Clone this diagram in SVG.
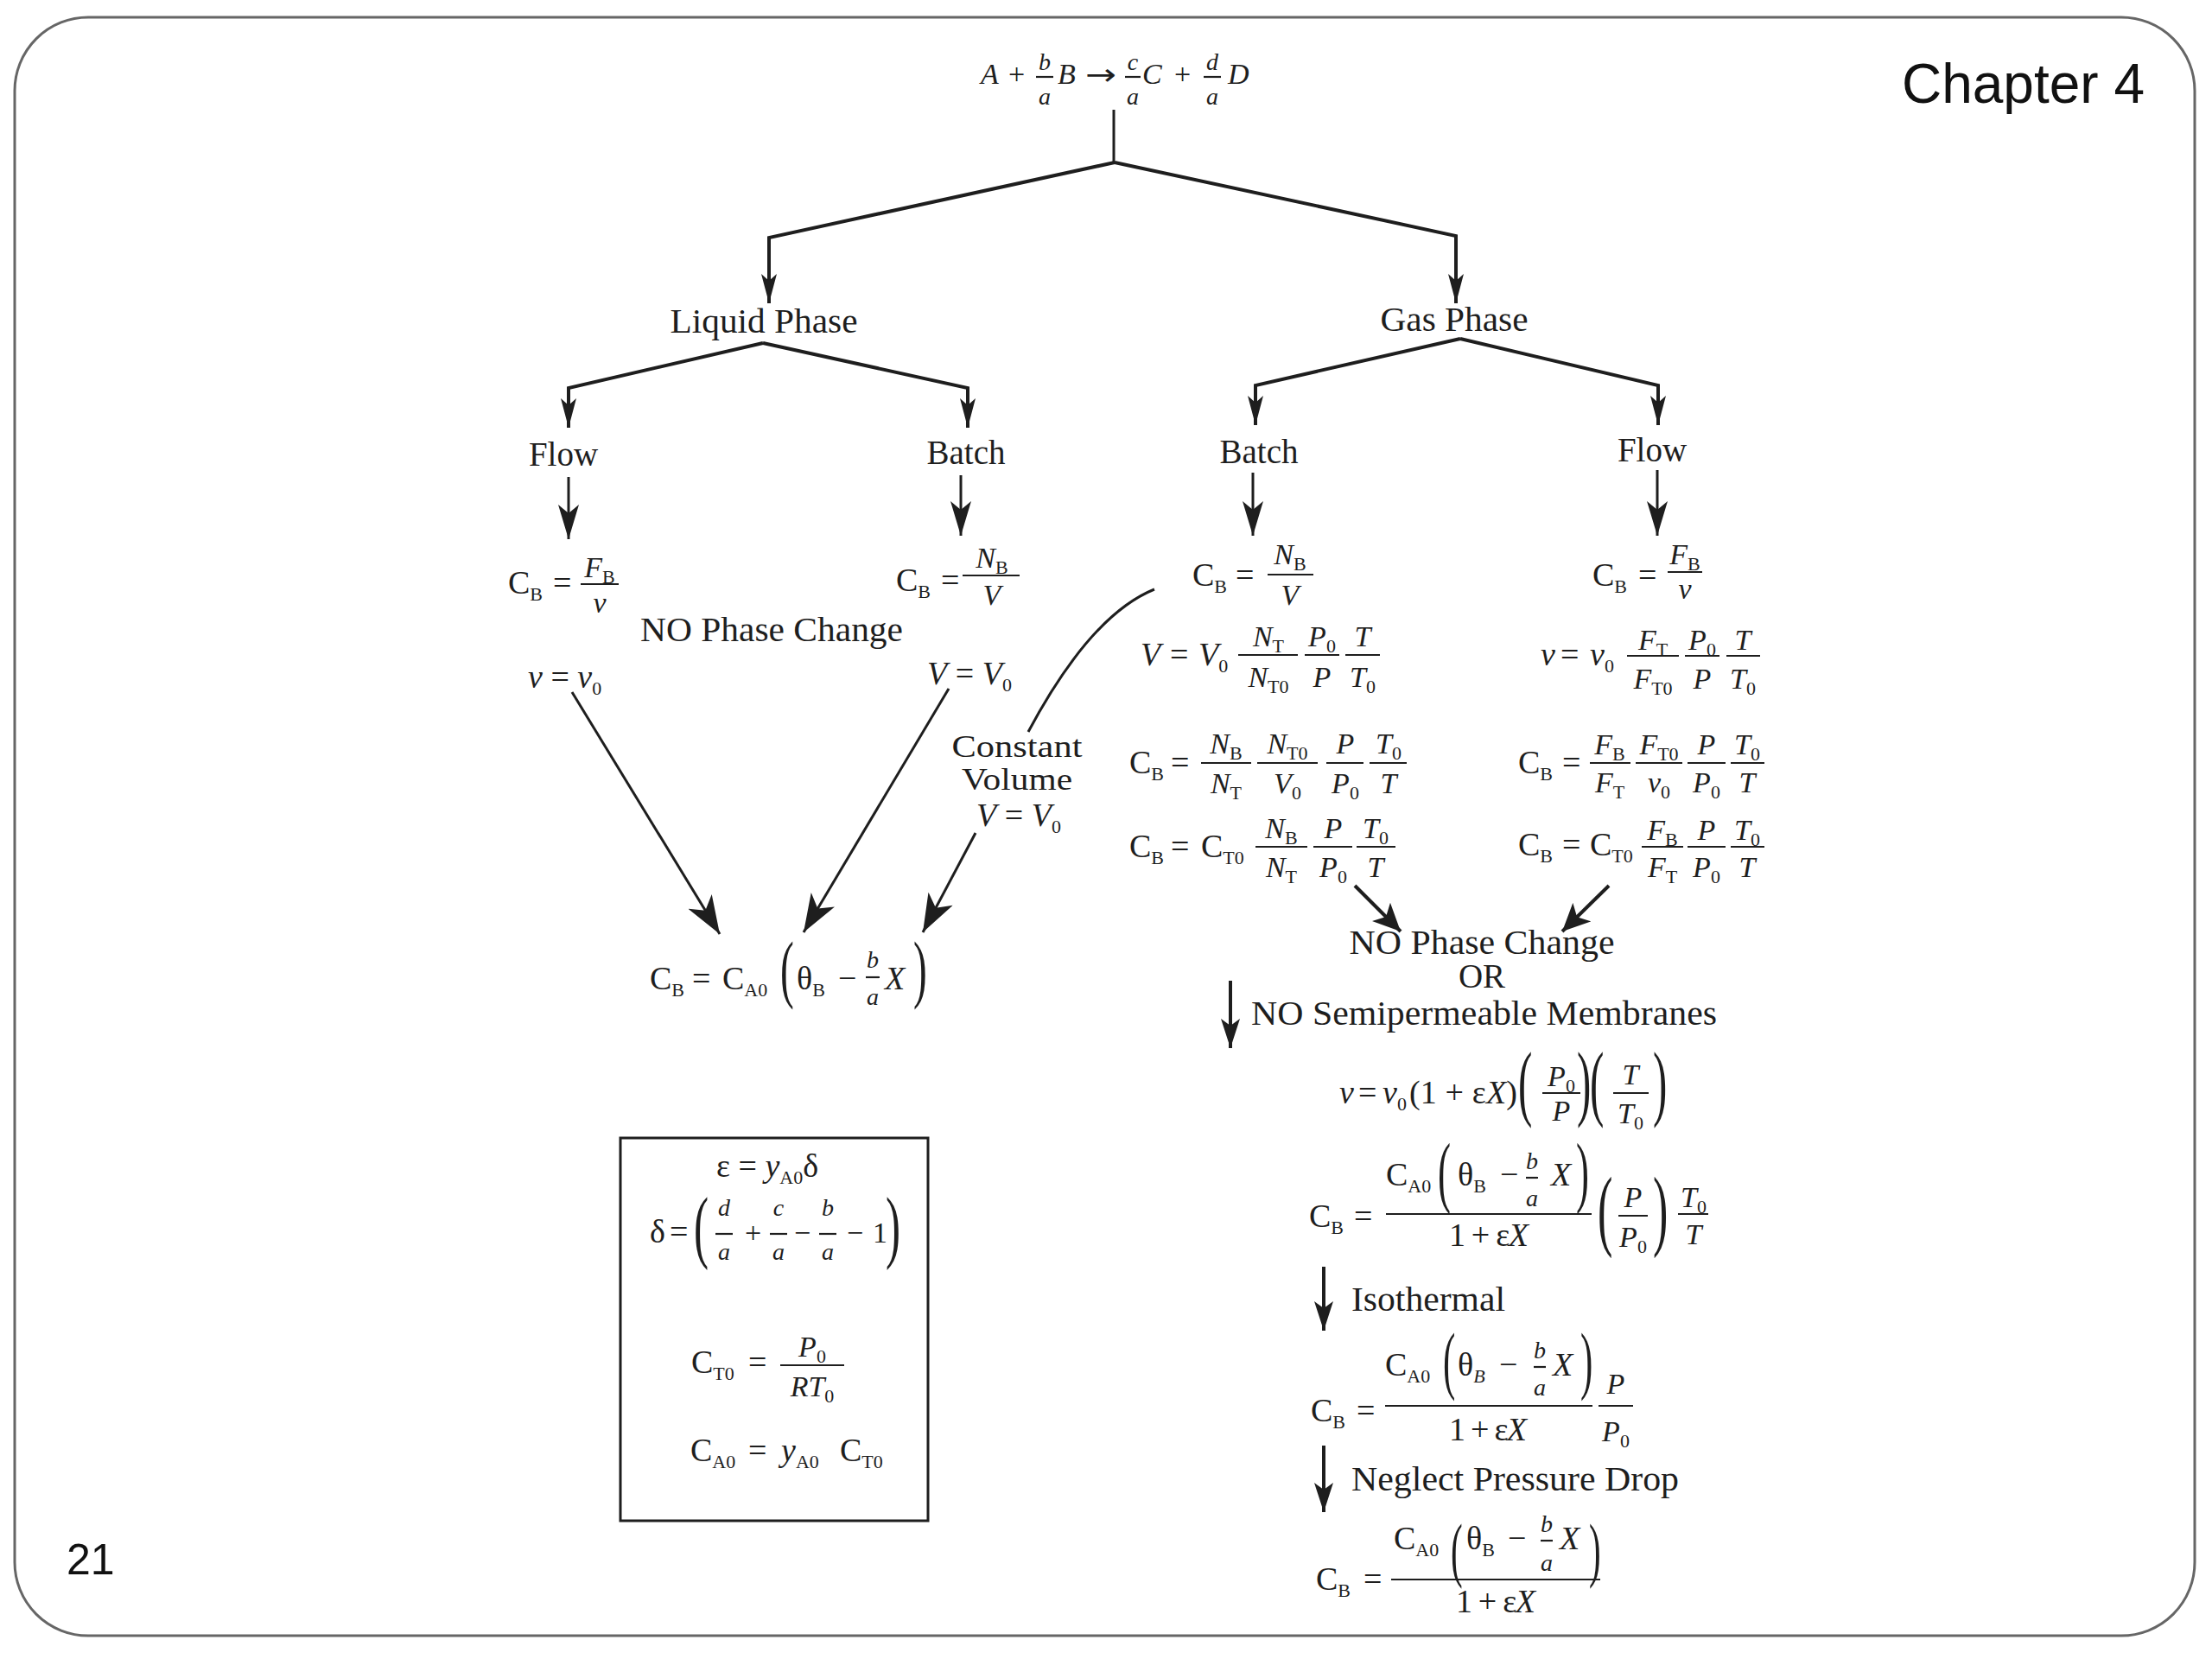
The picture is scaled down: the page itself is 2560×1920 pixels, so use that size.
<svg xmlns="http://www.w3.org/2000/svg" width="2560" height="1920" viewBox="0 0 2560 1920">
<style>
.f{font-family:"Liberation Serif","Times New Roman",serif;fill:#1e1e1e}
.m{font-size:38px}
.n{font-size:34px}
.q{font-size:28px}
.s{font-size:22px}
.i{font-style:italic}
.lb{font-size:39px}
.b{stroke:#1e1e1e;stroke-width:2.2}
.c{stroke:#1e1e1e;fill:none;stroke-width:4}
.c3{stroke:#1e1e1e;fill:none;stroke-width:3}
</style>
<defs>
<marker id="mT" viewBox="0 0 34 18" refX="34" refY="9" markerWidth="34" markerHeight="18" orient="auto" markerUnits="userSpaceOnUse"><path d="M0,0 L34,9 L0,18 L8,9 z" fill="#1e1e1e"/></marker>
<marker id="mL" viewBox="0 0 40 24" refX="40" refY="12" markerWidth="40" markerHeight="24" orient="auto" markerUnits="userSpaceOnUse"><path d="M0,0 L40,12 L0,24 L10,12 z" fill="#1e1e1e"/></marker>
<marker id="mD" viewBox="0 0 44 32" refX="44" refY="16" markerWidth="44" markerHeight="32" orient="auto" markerUnits="userSpaceOnUse"><path d="M0,0 L44,16 L0,32 L12,16 z" fill="#1e1e1e"/></marker>
<marker id="mC" viewBox="0 0 32 30" refX="32" refY="15" markerWidth="32" markerHeight="30" orient="auto" markerUnits="userSpaceOnUse"><path d="M0,0 L32,15 L0,30 L8,15 z" fill="#1e1e1e"/></marker>
<marker id="mV" viewBox="0 0 34 22" refX="34" refY="11" markerWidth="34" markerHeight="22" orient="auto" markerUnits="userSpaceOnUse"><path d="M0,0 L34,11 L0,22 L8,11 z" fill="#1e1e1e"/></marker>
</defs>
<rect x="0" y="0" width="2560" height="1920" fill="#ffffff"/>
<rect x="17" y="20" width="2523" height="1873" rx="85" ry="85" fill="#ffffff" stroke="#666666" stroke-width="3"/>

<g id="title"><text x="2482" y="119" text-anchor="end" font-family="Liberation Sans, Arial, sans-serif" font-size="64" fill="#111">Chapter 4</text></g>
<g id="page-number"><text x="77" y="1822" font-family="Liberation Sans, Arial, sans-serif" font-size="50" fill="#111">21</text></g>

<g id="connectors">
<path class="c3" d="M1289 127 L1289 188"/>
<path class="c" d="M1290 188 L890 275 L890 351" marker-end="url(#mT)"/>
<path class="c" d="M1290 188 L1685 273 L1685 351" marker-end="url(#mT)"/>
<path class="c" d="M883 397 L658 449 L658 495" marker-end="url(#mT)"/>
<path class="c" d="M883 397 L1120 449 L1120 495" marker-end="url(#mT)"/>
<path class="c" d="M1690 392 L1453 446 L1453 492" marker-end="url(#mT)"/>
<path class="c" d="M1690 392 L1919 446 L1919 492" marker-end="url(#mT)"/>
<path class="c3" d="M658 552 L658 624" marker-end="url(#mL)"/>
<path class="c3" d="M1112 550 L1112 620" marker-end="url(#mL)"/>
<path class="c3" d="M1450 547 L1450 620" marker-end="url(#mL)"/>
<path class="c3" d="M1918 544 L1918 620" marker-end="url(#mL)"/>
<path class="c3" d="M662 801 L833 1081" marker-end="url(#mD)"/>
<path class="c3" d="M1098 797 L930 1079" marker-end="url(#mD)"/>
<path class="c3" d="M1336 682 Q1262 712 1190 847"/>
<path class="c3" d="M1129 964 L1068 1079" marker-end="url(#mD)"/>
<path class="c" stroke-width="5" d="M1568 1025 L1621 1078" marker-end="url(#mC)"/>
<path class="c" stroke-width="5" d="M1862 1025 L1808 1078" marker-end="url(#mC)"/>
<path class="c" d="M1424 1135 L1424 1213" marker-end="url(#mV)"/>
<path class="c" d="M1532 1466 L1532 1540" marker-end="url(#mV)"/>
<path class="c" d="M1532 1673 L1532 1750" marker-end="url(#mV)"/>
</g>

<g id="reaction">
<text class="f i" font-size="34" x="1135" y="97">A</text>
<text class="f" font-size="34" x="1167" y="97">+</text>
<text class="f i q" x="1209" y="81" text-anchor="middle">b</text>
<line class="b" x1="1199" y1="89" x2="1219" y2="89"/>
<text class="f i q" x="1209" y="121" text-anchor="middle">a</text>
<text class="f i" font-size="34" x="1224" y="97">B</text>
<text font-family="DejaVu Sans, sans-serif" fill="#1e1e1e" font-size="34" x="1256" y="98" textLength="36" lengthAdjust="spacingAndGlyphs">→</text>
<text class="f i q" x="1311" y="81" text-anchor="middle">c</text>
<line class="b" x1="1302" y1="89" x2="1320" y2="89"/>
<text class="f i q" x="1311" y="121" text-anchor="middle">a</text>
<text class="f i" font-size="34" x="1322" y="97">C</text>
<text class="f" font-size="34" x="1359" y="97">+</text>
<text class="f i q" x="1403" y="81" text-anchor="middle">d</text>
<line class="b" x1="1393" y1="89" x2="1413" y2="89"/>
<text class="f i q" x="1403" y="121" text-anchor="middle">a</text>
<text class="f i" font-size="34" x="1421" y="97">D</text>
</g>

<g id="liquid-phase"><text class="f lb" x="884" y="385" text-anchor="middle" textLength="217" lengthAdjust="spacingAndGlyphs">Liquid Phase</text></g>
<g id="gas-phase"><text class="f lb" x="1683" y="383" text-anchor="middle" textLength="171" lengthAdjust="spacingAndGlyphs">Gas Phase</text></g>
<g id="liquid-flow"><text class="f lb" x="652" y="539" text-anchor="middle">Flow</text></g>
<g id="liquid-batch"><text class="f lb" x="1118" y="537" text-anchor="middle">Batch</text></g>
<g id="gas-batch"><text class="f lb" x="1457" y="536" text-anchor="middle">Batch</text></g>
<g id="gas-flow"><text class="f lb" x="1912" y="534" text-anchor="middle">Flow</text></g>

<g id="liq-flow-cb">
<text class="f m" x="588" y="687">C<tspan class="s" dy="8">B</tspan></text>
<text class="f m" x="640" y="687">=</text>
<text class="f n" x="694" y="668" text-anchor="middle"><tspan class="i">F</tspan><tspan class="s" dy="7">B</tspan></text>
<line class="b" x1="672" y1="676" x2="716" y2="676"/>
<text class="f n i" x="694" y="709" text-anchor="middle">v</text>
</g>

<g id="liq-batch-cb">
<text class="f m" x="1037" y="684">C<tspan class="s" dy="8">B</tspan></text>
<text class="f m" x="1089" y="684">=</text>
<text class="f n" x="1148" y="657" text-anchor="middle"><tspan class="i">N</tspan><tspan class="s" dy="7">B</tspan></text>
<line class="b" x1="1114" y1="666" x2="1180" y2="666"/>
<text class="f n i" x="1148" y="700" text-anchor="middle">V</text>
</g>

<g id="liq-no-phase-change"><text class="f lb" x="893" y="742" text-anchor="middle" textLength="304" lengthAdjust="spacingAndGlyphs">NO Phase Change</text></g>

<g id="liq-v-v0"><text class="f m" x="611" y="796"><tspan class="i">v</tspan> = <tspan class="i">v</tspan><tspan class="s" dy="8">0</tspan></text></g>
<g id="liq-V-V0"><text class="f m" x="1073" y="792"><tspan class="i">V</tspan> = <tspan class="i">V</tspan><tspan class="s" dy="8">0</tspan></text></g>

<g id="constant-volume">
<text class="f" font-size="35" x="1177" y="876" text-anchor="middle" textLength="151" lengthAdjust="spacingAndGlyphs">Constant</text>
<text class="f" font-size="35" x="1177" y="914" text-anchor="middle" textLength="128" lengthAdjust="spacingAndGlyphs">Volume</text>
<text class="f m" x="1179" y="956" text-anchor="middle"><tspan class="i">V</tspan> = <tspan class="i">V</tspan><tspan class="s" dy="8">0</tspan></text>
</g>

<g id="liq-final">
<text class="f m" x="752" y="1145">C<tspan class="s" dy="8">B</tspan></text>
<text class="f m" x="801" y="1145">=</text>
<text class="f m" x="836" y="1145">C<tspan class="s" dy="8">A0</tspan></text>
<text class="f" font-size="86" transform="translate(903,1150) scale(0.55,1)">(</text>
<text class="f m" x="922" y="1145">θ<tspan class="s" dy="8">B</tspan></text>
<text class="f m" x="970" y="1145">−</text>
<text class="f q i" x="1010" y="1120" text-anchor="middle">b</text>
<line class="b" x1="1002" y1="1131" x2="1018" y2="1131"/>
<text class="f q i" x="1010" y="1163" text-anchor="middle">a</text>
<text class="f m i" x="1024" y="1145">X</text>
<text class="f" font-size="86" transform="translate(1057,1150) scale(0.55,1)">)</text>
</g>

<g id="definitions-box">
<rect x="718" y="1317" width="356" height="443" fill="none" stroke="#1e1e1e" stroke-width="3"/>
<text class="f m" x="829" y="1362">ε = <tspan class="i">y</tspan><tspan class="s" dy="8">A0</tspan><tspan dy="-8">δ</tspan></text>
<text class="f m" x="752" y="1438">δ</text>
<text class="f m" x="775" y="1438">=</text>
<text class="f" font-size="93" transform="translate(803,1450) scale(0.55,1)">(</text>
<text class="f q i" x="838" y="1407" text-anchor="middle">d</text>
<line class="b" x1="828" y1="1428" x2="848" y2="1428"/>
<text class="f q i" x="838" y="1458" text-anchor="middle">a</text>
<text class="f n" x="862" y="1438">+</text>
<text class="f q i" x="901" y="1407" text-anchor="middle">c</text>
<line class="b" x1="891" y1="1428" x2="911" y2="1428"/>
<text class="f q i" x="901" y="1458" text-anchor="middle">a</text>
<text class="f n" x="919" y="1438">−</text>
<text class="f q i" x="958" y="1407" text-anchor="middle">b</text>
<line class="b" x1="948" y1="1428" x2="968" y2="1428"/>
<text class="f q i" x="958" y="1458" text-anchor="middle">a</text>
<text class="f n" x="980" y="1438">−</text>
<text class="f n" x="1010" y="1438">1</text>
<text class="f" font-size="93" transform="translate(1025,1450) scale(0.55,1)">)</text>
<text class="f m" x="800" y="1589">C<tspan class="s" dy="8">T0</tspan></text>
<text class="f m" x="866" y="1589">=</text>
<text class="f n" x="940" y="1570" text-anchor="middle"><tspan class="i">P</tspan><tspan class="s" dy="7">0</tspan></text>
<line class="b" x1="903" y1="1580" x2="977" y2="1580"/>
<text class="f n" x="940" y="1616" text-anchor="middle"><tspan class="i">RT</tspan><tspan class="s" dy="7">0</tspan></text>
<text class="f m" x="799" y="1691">C<tspan class="s" dy="8">A0</tspan></text>
<text class="f m" x="866" y="1691">=</text>
<text class="f m" x="904" y="1691"><tspan class="i">y</tspan><tspan class="s" dy="8">A0</tspan></text>
<text class="f m" x="972" y="1691">C<tspan class="s" dy="8">T0</tspan></text>
</g>

<g id="gas-batch-cb">
<text class="f m" x="1380" y="678">C<tspan class="s" dy="8">B</tspan></text>
<text class="f m" x="1430" y="678">=</text>
<text class="f n" x="1493" y="653" text-anchor="middle"><tspan class="i">N</tspan><tspan class="s" dy="7">B</tspan></text>
<line class="b" x1="1467" y1="665" x2="1520" y2="665"/>
<text class="f n i" x="1493" y="700" text-anchor="middle">V</text>
</g>

<g id="gas-batch-V">
<text class="f m i" x="1320" y="770">V</text>
<text class="f m" x="1354" y="770">=</text>
<text class="f m" x="1387" y="770"><tspan class="i">V</tspan><tspan class="s" dy="8">0</tspan></text>
<text class="f n" x="1468" y="748" text-anchor="middle"><tspan class="i">N</tspan><tspan class="s" dy="7">T</tspan></text>
<line class="b" x1="1433" y1="758" x2="1502" y2="758"/>
<text class="f n" x="1468" y="795" text-anchor="middle"><tspan class="i">N</tspan><tspan class="s" dy="7">T0</tspan></text>
<text class="f n" x="1530" y="748" text-anchor="middle"><tspan class="i">P</tspan><tspan class="s" dy="7">0</tspan></text>
<line class="b" x1="1510" y1="758" x2="1550" y2="758"/>
<text class="f n i" x="1530" y="795" text-anchor="middle">P</text>
<text class="f n i" x="1577" y="748" text-anchor="middle">T</text>
<line class="b" x1="1557" y1="758" x2="1597" y2="758"/>
<text class="f n" x="1577" y="795" text-anchor="middle"><tspan class="i">T</tspan><tspan class="s" dy="7">0</tspan></text>
</g>

<g id="gas-batch-cb2">
<text class="f m" x="1307" y="895">C<tspan class="s" dy="8">B</tspan></text>
<text class="f m" x="1355" y="895">=</text>
<text class="f n" x="1419" y="872" text-anchor="middle"><tspan class="i">N</tspan><tspan class="s" dy="7">B</tspan></text>
<line class="b" x1="1390" y1="883" x2="1448" y2="883"/>
<text class="f n" x="1419" y="918" text-anchor="middle"><tspan class="i">N</tspan><tspan class="s" dy="7">T</tspan></text>
<text class="f n" x="1490" y="872" text-anchor="middle"><tspan class="i">N</tspan><tspan class="s" dy="7">T0</tspan></text>
<line class="b" x1="1455" y1="883" x2="1525" y2="883"/>
<text class="f n" x="1490" y="918" text-anchor="middle"><tspan class="i">V</tspan><tspan class="s" dy="7">0</tspan></text>
<text class="f n i" x="1557" y="872" text-anchor="middle">P</text>
<line class="b" x1="1535" y1="883" x2="1578" y2="883"/>
<text class="f n" x="1557" y="918" text-anchor="middle"><tspan class="i">P</tspan><tspan class="s" dy="7">0</tspan></text>
<text class="f n" x="1607" y="872" text-anchor="middle"><tspan class="i">T</tspan><tspan class="s" dy="7">0</tspan></text>
<line class="b" x1="1585" y1="883" x2="1628" y2="883"/>
<text class="f n i" x="1607" y="918" text-anchor="middle">T</text>
</g>

<g id="gas-batch-cb3">
<text class="f m" x="1307" y="992">C<tspan class="s" dy="8">B</tspan></text>
<text class="f m" x="1355" y="992">=</text>
<text class="f m" x="1390" y="992">C<tspan class="s" dy="8">T0</tspan></text>
<text class="f n" x="1483" y="970" text-anchor="middle"><tspan class="i">N</tspan><tspan class="s" dy="7">B</tspan></text>
<line class="b" x1="1453" y1="980" x2="1513" y2="980"/>
<text class="f n" x="1483" y="1015" text-anchor="middle"><tspan class="i">N</tspan><tspan class="s" dy="7">T</tspan></text>
<text class="f n i" x="1543" y="970" text-anchor="middle">P</text>
<line class="b" x1="1520" y1="980" x2="1565" y2="980"/>
<text class="f n" x="1543" y="1015" text-anchor="middle"><tspan class="i">P</tspan><tspan class="s" dy="7">0</tspan></text>
<text class="f n" x="1592" y="970" text-anchor="middle"><tspan class="i">T</tspan><tspan class="s" dy="7">0</tspan></text>
<line class="b" x1="1570" y1="980" x2="1615" y2="980"/>
<text class="f n i" x="1592" y="1015" text-anchor="middle">T</text>
</g>

<g id="gas-flow-cb">
<text class="f m" x="1843" y="678">C<tspan class="s" dy="8">B</tspan></text>
<text class="f m" x="1896" y="678">=</text>
<text class="f n" x="1950" y="653" text-anchor="middle"><tspan class="i">F</tspan><tspan class="s" dy="7">B</tspan></text>
<line class="b" x1="1930" y1="662" x2="1970" y2="662"/>
<text class="f n i" x="1950" y="693" text-anchor="middle">v</text>
</g>

<g id="gas-flow-v">
<text class="f m i" x="1783" y="770">v</text>
<text class="f m" x="1806" y="770">=</text>
<text class="f m" x="1840" y="770"><tspan class="i">v</tspan><tspan class="s" dy="8">0</tspan></text>
<text class="f n" x="1913" y="752" text-anchor="middle"><tspan class="i">F</tspan><tspan class="s" dy="7">T</tspan></text>
<line class="b" x1="1883" y1="759" x2="1943" y2="759"/>
<text class="f n" x="1913" y="797" text-anchor="middle"><tspan class="i">F</tspan><tspan class="s" dy="7">T0</tspan></text>
<text class="f n" x="1970" y="752" text-anchor="middle"><tspan class="i">P</tspan><tspan class="s" dy="7">0</tspan></text>
<line class="b" x1="1950" y1="759" x2="1990" y2="759"/>
<text class="f n i" x="1970" y="797" text-anchor="middle">P</text>
<text class="f n i" x="2017" y="752" text-anchor="middle">T</text>
<line class="b" x1="1998" y1="759" x2="2037" y2="759"/>
<text class="f n" x="2017" y="797" text-anchor="middle"><tspan class="i">T</tspan><tspan class="s" dy="7">0</tspan></text>
</g>

<g id="gas-flow-cb2">
<text class="f m" x="1757" y="895">C<tspan class="s" dy="8">B</tspan></text>
<text class="f m" x="1808" y="895">=</text>
<text class="f n" x="1863" y="873" text-anchor="middle"><tspan class="i">F</tspan><tspan class="s" dy="7">B</tspan></text>
<line class="b" x1="1840" y1="883" x2="1887" y2="883"/>
<text class="f n" x="1863" y="917" text-anchor="middle"><tspan class="i">F</tspan><tspan class="s" dy="7">T</tspan></text>
<text class="f n" x="1920" y="873" text-anchor="middle"><tspan class="i">F</tspan><tspan class="s" dy="7">T0</tspan></text>
<line class="b" x1="1893" y1="883" x2="1947" y2="883"/>
<text class="f n" x="1920" y="917" text-anchor="middle"><tspan class="i">v</tspan><tspan class="s" dy="7">0</tspan></text>
<text class="f n i" x="1975" y="873" text-anchor="middle">P</text>
<line class="b" x1="1953" y1="883" x2="1997" y2="883"/>
<text class="f n" x="1975" y="917" text-anchor="middle"><tspan class="i">P</tspan><tspan class="s" dy="7">0</tspan></text>
<text class="f n" x="2022" y="873" text-anchor="middle"><tspan class="i">T</tspan><tspan class="s" dy="7">0</tspan></text>
<line class="b" x1="2003" y1="883" x2="2042" y2="883"/>
<text class="f n i" x="2022" y="917" text-anchor="middle">T</text>
</g>

<g id="gas-flow-cb3">
<text class="f m" x="1757" y="990">C<tspan class="s" dy="8">B</tspan></text>
<text class="f m" x="1808" y="990">=</text>
<text class="f m" x="1840" y="990">C<tspan class="s" dy="8">T0</tspan></text>
<text class="f n" x="1924" y="972" text-anchor="middle"><tspan class="i">F</tspan><tspan class="s" dy="7">B</tspan></text>
<line class="b" x1="1900" y1="980" x2="1948" y2="980"/>
<text class="f n" x="1924" y="1015" text-anchor="middle"><tspan class="i">F</tspan><tspan class="s" dy="7">T</tspan></text>
<text class="f n i" x="1975" y="972" text-anchor="middle">P</text>
<line class="b" x1="1953" y1="980" x2="1997" y2="980"/>
<text class="f n" x="1975" y="1015" text-anchor="middle"><tspan class="i">P</tspan><tspan class="s" dy="7">0</tspan></text>
<text class="f n" x="2022" y="972" text-anchor="middle"><tspan class="i">T</tspan><tspan class="s" dy="7">0</tspan></text>
<line class="b" x1="2003" y1="980" x2="2042" y2="980"/>
<text class="f n i" x="2022" y="1015" text-anchor="middle">T</text>
</g>

<g id="gas-no-phase-change">
<text class="f lb" x="1715" y="1104" text-anchor="middle" textLength="307" lengthAdjust="spacingAndGlyphs">NO Phase Change</text>
<text class="f lb" x="1715" y="1143" text-anchor="middle">OR</text>
<text class="f lb" x="1448" y="1186" textLength="539" lengthAdjust="spacingAndGlyphs">NO Semipermeable Membranes</text>
</g>

<g id="gas-v-general">
<text class="f m i" x="1550" y="1277">v</text>
<text class="f m" x="1572" y="1277">=</text>
<text class="f m" x="1600" y="1277"><tspan class="i">v</tspan><tspan class="s" dy="8">0</tspan></text>
<text class="f m" x="1631" y="1277" textLength="125">(1 + ε<tspan class="i">X</tspan>)</text>
<text class="f" font-size="98" transform="translate(1757,1285) scale(0.5,1)">(</text>
<text class="f n" x="1807" y="1257" text-anchor="middle"><tspan class="i">P</tspan><tspan class="s" dy="7">0</tspan></text>
<line class="b" x1="1785" y1="1265" x2="1829" y2="1265"/>
<text class="f n i" x="1807" y="1297" text-anchor="middle">P</text>
<text class="f" font-size="98" transform="translate(1825,1285) scale(0.5,1)">)</text>
<text class="f" font-size="98" transform="translate(1840,1285) scale(0.5,1)">(</text>
<text class="f n i" x="1887" y="1255" text-anchor="middle">T</text>
<line class="b" x1="1867" y1="1265" x2="1908" y2="1265"/>
<text class="f n" x="1887" y="1300" text-anchor="middle"><tspan class="i">T</tspan><tspan class="s" dy="7">0</tspan></text>
<text class="f" font-size="98" transform="translate(1913,1285) scale(0.5,1)">)</text>
</g>

<g id="gas-cb-general">
<text class="f m" x="1515" y="1420">C<tspan class="s" dy="8">B</tspan></text>
<text class="f m" x="1567" y="1420">=</text>
<line class="b" x1="1604" y1="1405" x2="1842" y2="1405"/>
<text class="f m" x="1604" y="1372">C<tspan class="s" dy="8">A0</tspan></text>
<text class="f" font-size="90" transform="translate(1664,1386) scale(0.5,1)">(</text>
<text class="f m" x="1687" y="1372">θ<tspan class="s" dy="8">B</tspan></text>
<text class="f m" x="1736" y="1372">−</text>
<text class="f q i" x="1773" y="1353" text-anchor="middle">b</text>
<line class="b" x1="1766" y1="1363" x2="1780" y2="1363"/>
<text class="f q i" x="1773" y="1396" text-anchor="middle">a</text>
<text class="f m i" x="1795" y="1372">X</text>
<text class="f" font-size="90" transform="translate(1824,1386) scale(0.5,1)">)</text>
<text class="f m" x="1677" y="1442" textLength="92">1 + ε<tspan class="i">X</tspan></text>
<text class="f" font-size="104" transform="translate(1849,1434) scale(0.5,1)">(</text>
<text class="f n i" x="1890" y="1397" text-anchor="middle">P</text>
<line class="b" x1="1873" y1="1407" x2="1907" y2="1407"/>
<text class="f n" x="1890" y="1443" text-anchor="middle"><tspan class="i">P</tspan><tspan class="s" dy="7">0</tspan></text>
<text class="f" font-size="104" transform="translate(1913,1434) scale(0.5,1)">)</text>
<text class="f n" x="1960" y="1397" text-anchor="middle"><tspan class="i">T</tspan><tspan class="s" dy="7">0</tspan></text>
<line class="b" x1="1942" y1="1405" x2="1977" y2="1405"/>
<text class="f n i" x="1960" y="1440" text-anchor="middle">T</text>
</g>

<g id="isothermal">
<text class="f lb" x="1564" y="1517" textLength="178" lengthAdjust="spacingAndGlyphs">Isothermal</text>
<text class="f m" x="1517" y="1645">C<tspan class="s" dy="8">B</tspan></text>
<text class="f m" x="1570" y="1645">=</text>
<line class="b" x1="1603" y1="1627" x2="1843" y2="1627"/>
<text class="f m" x="1603" y="1592">C<tspan class="s" dy="8">A0</tspan></text>
<text class="f" font-size="86" transform="translate(1670,1603) scale(0.5,1)">(</text>
<text class="f m" x="1687" y="1592">θ<tspan class="s i" dy="8">B</tspan></text>
<text class="f m" x="1735" y="1592">−</text>
<text class="f q i" x="1782" y="1572" text-anchor="middle">b</text>
<line class="b" x1="1775" y1="1582" x2="1789" y2="1582"/>
<text class="f q i" x="1782" y="1615" text-anchor="middle">a</text>
<text class="f m i" x="1797" y="1592">X</text>
<text class="f" font-size="86" transform="translate(1829,1603) scale(0.5,1)">)</text>
<text class="f m" x="1677" y="1667" textLength="90">1 + ε<tspan class="i">X</tspan></text>
<text class="f n i" x="1870" y="1613" text-anchor="middle">P</text>
<line class="b" x1="1850" y1="1627" x2="1890" y2="1627"/>
<text class="f n" x="1870" y="1668" text-anchor="middle"><tspan class="i">P</tspan><tspan class="s" dy="7">0</tspan></text>
</g>

<g id="neglect-pressure-drop">
<text class="f lb" x="1564" y="1725" textLength="379" lengthAdjust="spacingAndGlyphs">Neglect Pressure Drop</text>
<text class="f m" x="1523" y="1840">C<tspan class="s" dy="8">B</tspan></text>
<text class="f m" x="1578" y="1840">=</text>
<line class="b" x1="1610" y1="1828" x2="1852" y2="1828"/>
<text class="f m" x="1613" y="1793">C<tspan class="s" dy="8">A0</tspan></text>
<text class="f" font-size="82" transform="translate(1679,1821) scale(0.5,1)">(</text>
<text class="f m" x="1697" y="1793">θ<tspan class="s" dy="8">B</tspan></text>
<text class="f m" x="1745" y="1793">−</text>
<text class="f q i" x="1790" y="1773" text-anchor="middle">b</text>
<line class="b" x1="1783" y1="1783" x2="1797" y2="1783"/>
<text class="f q i" x="1790" y="1818" text-anchor="middle">a</text>
<text class="f m i" x="1805" y="1793">X</text>
<text class="f" font-size="82" transform="translate(1839,1821) scale(0.5,1)">)</text>
<text class="f m" x="1685" y="1866" textLength="92">1 + ε<tspan class="i">X</tspan></text>
</g>
</svg>
